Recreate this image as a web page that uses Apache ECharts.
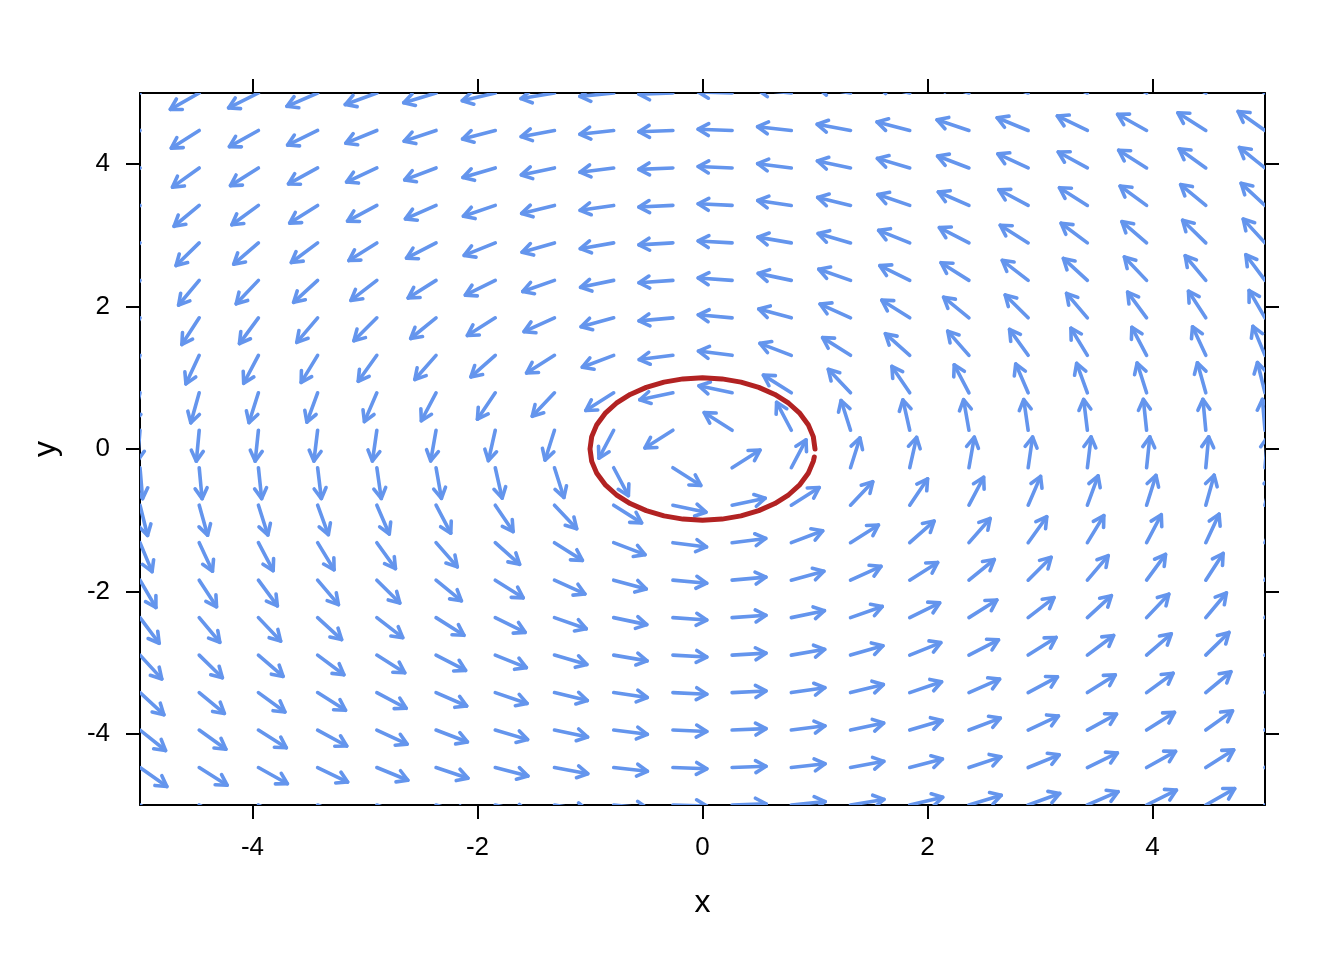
<!DOCTYPE html>
<html>
<head>
<meta charset="utf-8">
<script src="https://cdn.jsdelivr.net/npm/echarts@6/dist/echarts.min.js"></script>
<style>html,body{margin:0;padding:0;background:#fff}#c{width:1344px;height:960px}</style>
</head>
<body>
<div id="c"></div>
<script>
// Grid of arrow tails (20 x 20)
const gridX = [-5, -4.4737, -3.9474, -3.4211, -2.8947, -2.3684, -1.8421, -1.3158, -0.7895, -0.2632,
               0.2632, 0.7895, 1.3158, 1.8421, 2.3684, 2.8947, 3.4211, 3.9474, 4.4737, 5];
const gridY = [-5, -4.4737, -3.9474, -3.4211, -2.8947, -2.3684, -1.8421, -1.3158, -0.7895, -0.2632,
               0.2632, 0.7895, 1.3158, 1.8421, 2.3684, 2.8947, 3.4211, 3.9474, 4.4737, 5];
// Flow components: horizontal component for each row (order of gridY), vertical component for each column (order of gridX)
const flowUByRow = [5, 4.4737, 3.9474, 3.4211, 2.8947, 2.3684, 1.8421, 1.3158, 0.7895, 0.2632,
                    -0.2632, -0.7895, -1.3158, -1.8421, -2.3684, -2.8947, -3.4211, -3.9474, -4.4737, -5];
const flowVByCol = [-5, -4.4737, -3.9474, -3.4211, -2.8947, -2.3684, -1.8421, -1.3158, -0.7895, -0.2632,
                    0.2632, 0.7895, 1.3158, 1.8421, 2.3684, 2.8947, 3.4211, 3.9474, 4.4737, 5];
// Trajectory (red orbit)
const orbitX = [1, 0.9848, 0.9397, 0.8660, 0.7660, 0.6428, 0.5, 0.3420, 0.1736, 0,
                -0.1736, -0.3420, -0.5, -0.6428, -0.7660, -0.8660, -0.9397, -0.9848, -1,
                -0.9848, -0.9397, -0.8660, -0.7660, -0.6428, -0.5, -0.3420, -0.1736, 0,
                0.1736, 0.3420, 0.5, 0.6428, 0.7660, 0.8660, 0.9397, 0.9848, 0.9936];
const orbitY = [0, 0.1736, 0.3420, 0.5, 0.6428, 0.7660, 0.8660, 0.9397, 0.9848, 1,
                0.9848, 0.9397, 0.8660, 0.7660, 0.6428, 0.5, 0.3420, 0.1736, 0,
                -0.1736, -0.3420, -0.5, -0.6428, -0.7660, -0.8660, -0.9397, -0.9848, -1,
                -0.9848, -0.9397, -0.8660, -0.7660, -0.6428, -0.5, -0.3420, -0.1736, -0.1132];
const tickValues = [-4, -2, 0, 2, 4];

const arrowData = [];
gridY.forEach((y, i) => gridX.forEach((x, j) => arrowData.push([x, y, flowUByRow[i], flowVByCol[j]])));
const orbitData = orbitX.map((x, i) => [x, orbitY[i]]);

const BLUE = '#6495ED';
const LX = 34, LY = 31, HEAD = 12, HANG = 30 * Math.PI / 180;

function renderArrow(params, api) {
  const x = api.value(0), y = api.value(1), u = api.value(2), v = api.value(3);
  const m = Math.hypot(u, v) || 1;
  const p0 = api.coord([x, y]);
  const p1 = api.coord([x + u / m * 0.01, y + v / m * 0.01]);
  let dx = p1[0] - p0[0], dy = p1[1] - p0[1];
  const n = Math.hypot(dx, dy) || 1; dx /= n; dy /= n;
  const L = 1 / Math.sqrt((dx / LX) ** 2 + (dy / LY) ** 2);
  const tip = [p0[0] + dx * L, p0[1] + dy * L];
  const bx = -dx, by = -dy;
  const c = Math.cos(HANG), s = Math.sin(HANG);
  const h1 = [tip[0] + HEAD * (bx * c - by * s), tip[1] + HEAD * (bx * s + by * c)];
  const h2 = [tip[0] + HEAD * (bx * c + by * s), tip[1] + HEAD * (-bx * s + by * c)];
  const style = { stroke: BLUE, lineWidth: 3.6, lineCap: 'round', lineJoin: 'round', fill: null };
  return {
    type: 'group',
    children: [
      { type: 'line', shape: { x1: p0[0], y1: p0[1], x2: tip[0], y2: tip[1] }, style },
      { type: 'polyline', shape: { points: [h1, tip, h2] }, style }
    ]
  };
}

const FONT = 'Liberation Sans, Arial, sans-serif';
const axisCommon = {
  type: 'value', min: -5, max: 5,
  splitLine: { show: false },
  axisLine: { show: true, onZero: false, lineStyle: { color: '#000', width: 2 } },
  axisTick: { show: true, inside: false, length: 14, customValues: tickValues, lineStyle: { color: '#000', width: 2 } }
};

const chart = echarts.init(document.getElementById('c'), null, { renderer: 'canvas' });
chart.setOption({
  animation: false,
  backgroundColor: '#fff',
  grid: { left: 140, right: 79, top: 93, bottom: 155, containLabel: false },
  xAxis: [
    Object.assign({}, axisCommon, {
      position: 'bottom',
      name: 'x', nameLocation: 'middle', nameGap: 82,
      nameTextStyle: { fontFamily: FONT, fontSize: 32, color: '#000' },
      axisLabel: { show: true, customValues: tickValues, margin: 30, fontFamily: FONT, fontSize: 26, color: '#000' }
    }),
    Object.assign({}, axisCommon, { position: 'top', axisLabel: { show: false } })
  ],
  yAxis: [
    Object.assign({}, axisCommon, {
      position: 'left',
      name: 'y', nameLocation: 'middle', nameGap: 78,
      nameTextStyle: { fontFamily: FONT, fontSize: 32, color: '#000' },
      axisLabel: { show: true, customValues: tickValues, margin: 30, fontFamily: FONT, fontSize: 26, color: '#000' }
    }),
    Object.assign({}, axisCommon, { position: 'right', axisLabel: { show: false } })
  ],
  series: [
    {
      type: 'custom', xAxisIndex: 0, yAxisIndex: 0, clip: true,
      renderItem: renderArrow, data: arrowData, silent: true
    },
    {
      type: 'line', xAxisIndex: 0, yAxisIndex: 0, data: orbitData,
      showSymbol: false, symbol: 'none', smooth: false, clip: true,
      lineStyle: { color: '#B22222', width: 5, cap: 'round', join: 'round' },
      silent: true
    }
  ]
});
</script>
</body>
</html>
